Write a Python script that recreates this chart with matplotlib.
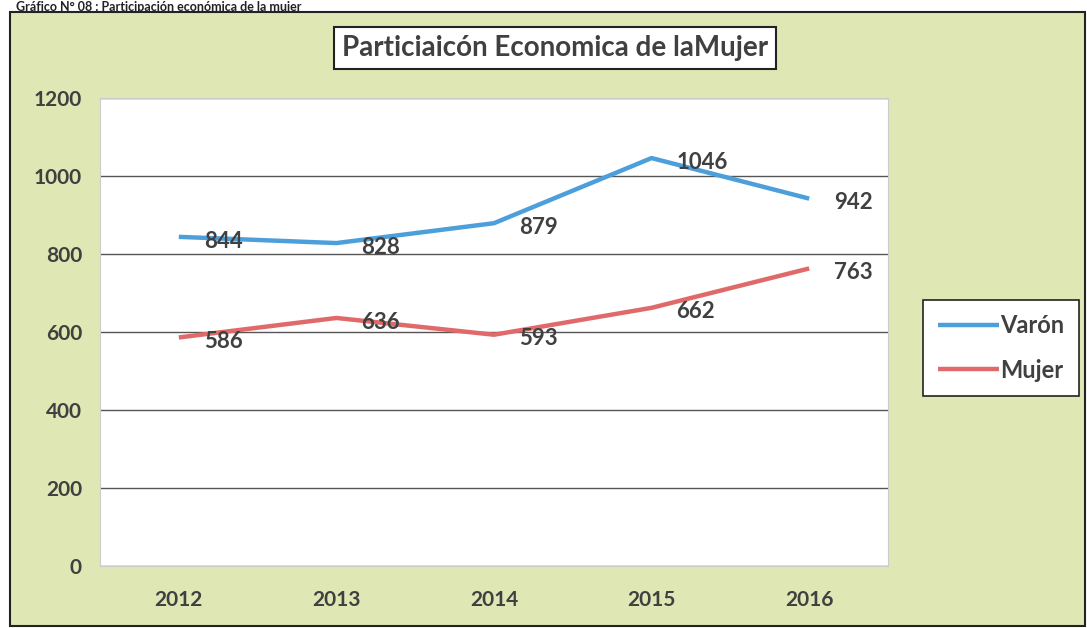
import matplotlib.pyplot as plt
from matplotlib.patches import Rectangle

years = ["2012", "2013", "2014", "2015", "2016"]
varon = [844, 828, 879, 1046, 942]
mujer = [586, 636, 593, 662, 763]
yticks = [0, 200, 400, 600, 800, 1000, 1200]

W, H = 1087, 628
green = "#dfe8b4"
txt = "#404040"
font = ["Lato", "DejaVu Sans"]

fig = plt.figure(figsize=(W / 100, H / 100), dpi=100)
fig.patch.set_facecolor("white")

# outer chart frame (green)
fig.patches.append(Rectangle((10 / W, 2 / H), (W - 12) / W, (H - 14) / H,
                             transform=fig.transFigure, facecolor=green,
                             edgecolor="#222222", linewidth=1.5, zorder=-5))

# caption at the top of the scan
fig.text(16 / W, 1 - 1 / H, "Gráfico N° 08 : Participación económica de la mujer",
         ha="left", va="top", fontsize=9, fontweight="bold",
         color="#222222", family=font)

ax = fig.add_axes([100 / W, (H - 566) / H, 788 / W, (566 - 98) / H])
ax.set_facecolor("white")
x = list(range(len(years)))

ax.plot(x, varon, color="#4d9fdc", linewidth=3.2, label="Varón",
        solid_capstyle="butt", zorder=3)
ax.plot(x, mujer, color="#e06a6a", linewidth=3.2, label="Mujer",
        solid_capstyle="butt", zorder=3)

for xi, v in zip(x, varon):
    ax.annotate(str(v), (xi, v), xytext=(18, -3), textcoords="offset points",
                ha="left", va="center", fontsize=16, fontweight="bold",
                color=txt, family=font, zorder=4)
for xi, v in zip(x, mujer):
    ax.annotate(str(v), (xi, v), xytext=(18, -3), textcoords="offset points",
                ha="left", va="center", fontsize=16, fontweight="bold",
                color=txt, family=font, zorder=4)

ax.set_xlim(-0.5, 4.5)
ax.set_ylim(0, 1200)
ax.set_yticks(yticks)
ax.set_yticklabels([str(t) for t in yticks])
ax.set_xticks(x)
ax.set_xticklabels(years)
ax.tick_params(length=0, pad=13, labelsize=15, labelcolor=txt)
for lab in ax.get_xticklabels() + ax.get_yticklabels():
    lab.set_fontweight("bold")
    lab.set_family(font)
ax.tick_params(axis="x", pad=17)
ax.grid(axis="y", color="#555555", linewidth=1.0, zorder=1)
ax.set_axisbelow(True)
for s in ax.spines.values():
    s.set_color("#cccccc")
    s.set_linewidth(0.8)

fig.text(555 / W, 1 - 48 / H, "Particiaicón Economica de laMujer", fontsize=20,
         fontweight="bold", color=txt, family=font, ha="center", va="center",
         bbox=dict(facecolor="white", edgecolor="#222222", linewidth=1.5,
                   boxstyle="square,pad=0.3"))

leg = fig.legend(loc="center", bbox_to_anchor=(1001 / W, 1 - 348 / H),
                 frameon=True, fancybox=False, edgecolor="#222222",
                 facecolor="white", framealpha=1,
                 handlelength=2.6, handletextpad=0.05, labelspacing=0.9,
                 borderpad=0.6, borderaxespad=0,
                 prop={"family": font, "weight": "bold", "size": 17})
leg.get_frame().set_linewidth(1.2)
for t in leg.get_texts():
    t.set_color(txt)

fig.savefig("out.png", dpi=100)
